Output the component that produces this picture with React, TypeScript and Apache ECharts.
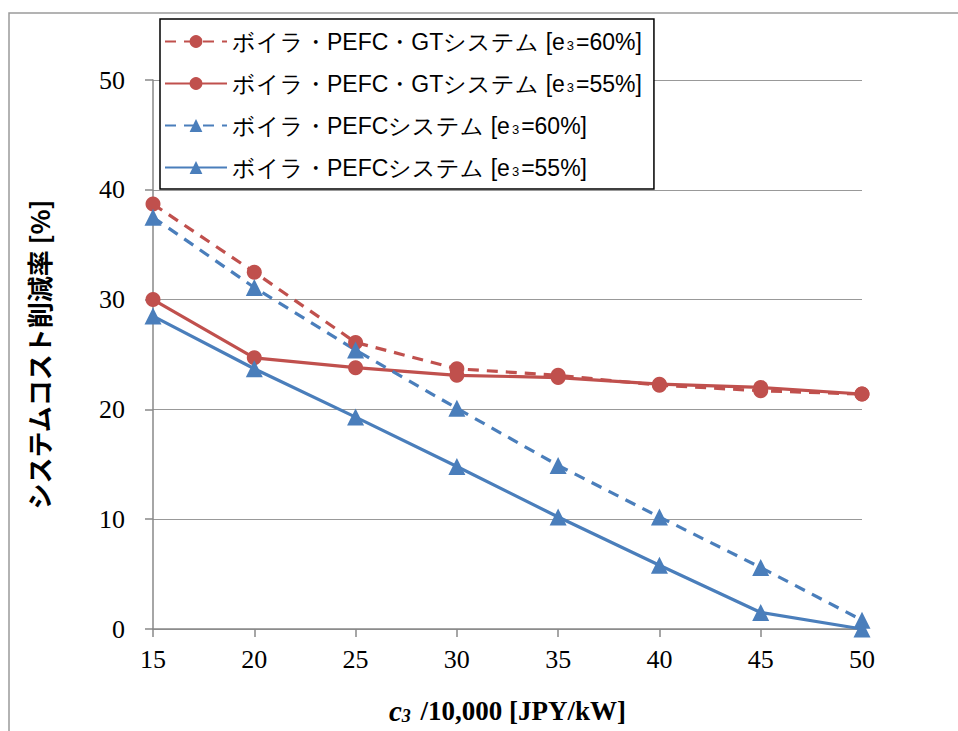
import React, { useEffect, useRef } from "react";
import * as echarts from "echarts";

const xValues = [15, 20, 25, 30, 35, 40, 45, 50];
const gt60 = [38.7, 32.5, 26.1, 23.7, 23.1, 22.2, 21.7, 21.4];
const gt55 = [30.0, 24.7, 23.8, 23.1, 22.9, 22.3, 22.0, 21.4];
const pefc60 = [37.5, 31.1, 25.4, 20.1, 14.9, 10.2, 5.6, 0.8];
const pefc55 = [28.5, 23.7, 19.3, 14.8, 10.2, 5.8, 1.5, 0.0];

const seriesNames = [
  "ボイラ・PEFC・GTシステム [e3=60%]",
  "ボイラ・PEFC・GTシステム [e3=55%]",
  "ボイラ・PEFCシステム [e3=60%]",
  "ボイラ・PEFCシステム [e3=55%]",
];
const legendRich = [
  "{a|ボイラ・PEFC・GTシステム [e}{s|3}{a|=60%]}",
  "{a|ボイラ・PEFC・GTシステム [e}{s|3}{a|=55%]}",
  "{a|ボイラ・PEFCシステム [e}{s|3}{a|=60%]}",
  "{a|ボイラ・PEFCシステム [e}{s|3}{a|=55%]}",
];

const RED = "#C0504D";
const BLUE = "#4A7EBB";
const SERIF = "Liberation Serif, Times New Roman, serif";
const SANS = "Liberation Sans, Arial, sans-serif";

export default function App() {
  const ref = useRef<HTMLDivElement>(null);
  useEffect(() => {
    document.body.style.margin = "0";
    const chart = echarts.init(ref.current!, null, { renderer: "svg" });
    const mk = (i: number, data: number[], color: string, dashed: boolean, symbol: string, size: number) => ({
      name: seriesNames[i],
      type: "line",
      data: xValues.map((x, k) => [x, data[k]]),
      symbol,
      symbolSize: size,
      lineStyle: { color, width: 3.2, type: dashed ? [11, 8] : "solid" },
      itemStyle: { color },
      z: 3,
    });
    chart.setOption({
      animation: false,
      backgroundColor: "#fff",
      graphic: [
        {
          type: "rect",
          shape: { x: 9, y: 13, width: 1000, height: 800 },
          style: { fill: "none", stroke: "#9a9a9a", lineWidth: 1.5 },
          z: -1,
        },
      ],
      grid: { left: 153, right: 96, top: 80, bottom: 102, outerBoundsMode: "none", containLabel: false },
      legend: {
        orient: "vertical",
        left: 160,
        top: 19,
        backgroundColor: "#fff",
        borderColor: "#000",
        borderWidth: 1.5,
        borderRadius: 0,
        padding: [11, 12, 10, 4],
        itemWidth: 62,
        itemHeight: 16,
        itemGap: 19,
        data: seriesNames,
        formatter: (name: string) => legendRich[seriesNames.indexOf(name)],
        textStyle: {
          rich: {
            a: { fontFamily: SANS, fontSize: 23, color: "#000", lineHeight: 27 },
            s: { fontFamily: SANS, fontSize: 13, color: "#000", lineHeight: 27, padding: [7, 2, 0, 2] },
          },
        },
        z: 10,
      },
      xAxis: {
        type: "value",
        min: 15,
        max: 50,
        interval: 5,
        axisLine: { show: true, onZero: false, lineStyle: { color: "#888", width: 1.5 } },
        axisTick: { show: true, length: 8, lineStyle: { color: "#888", width: 1.5 } },
        splitLine: { show: false },
        axisLabel: { fontFamily: SERIF, fontSize: 26, color: "#000", margin: 17 },
        name: "{c|c}{s|3}{t| /10,000 [JPY/kW]}",
        nameLocation: "middle",
        nameGap: 67,
        nameTextStyle: {
          rich: {
            c: { fontFamily: SERIF, fontSize: 29, fontWeight: "bold", fontStyle: "italic", color: "#000", lineHeight: 30 },
            s: { fontFamily: SERIF, fontSize: 18, fontWeight: "bold", fontStyle: "italic", color: "#000", lineHeight: 30, padding: [9, 3, 0, 0] },
            t: { fontFamily: SERIF, fontSize: 27, fontWeight: "bold", color: "#000", lineHeight: 30 },
          },
        },
      },
      yAxis: {
        type: "value",
        min: 0,
        max: 50,
        interval: 10,
        axisLine: { show: true, lineStyle: { color: "#888", width: 1.5 } },
        axisTick: { show: true, length: 8, lineStyle: { color: "#888", width: 1.5 } },
        splitLine: { show: true, lineStyle: { color: "#999", width: 1.2 } },
        axisLabel: { fontFamily: SERIF, fontSize: 26, color: "#000", margin: 28 },
        name: "システムコスト削減率 [%]",
        nameLocation: "middle",
        nameGap: 102,
        nameTextStyle: {
          fontFamily: "Noto Sans CJK JP, sans-serif",
          fontSize: 26,
          fontWeight: "bold",
          color: "#000",
        },
      },
      series: [
        mk(0, gt60, RED, true, "circle", 15),
        mk(1, gt55, RED, false, "circle", 15),
        mk(2, pefc60, BLUE, true, "triangle", 17),
        mk(3, pefc55, BLUE, false, "triangle", 17),
      ],
    });
    return () => chart.dispose();
  }, []);
  return <div ref={ref} style={{ width: 958, height: 731 }} />;
}
